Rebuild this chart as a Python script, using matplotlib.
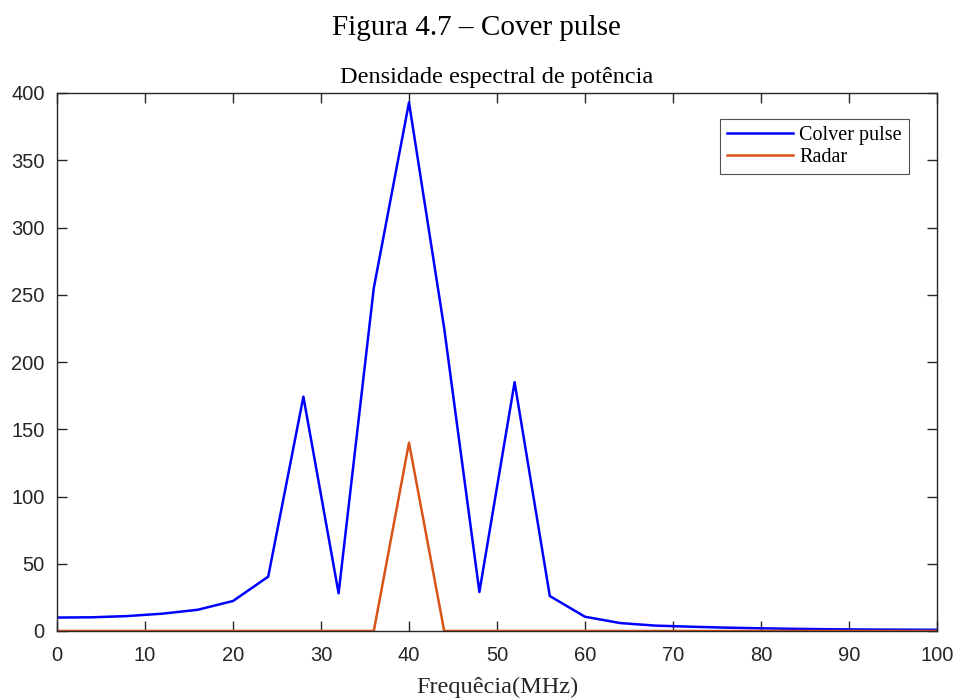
import matplotlib
matplotlib.use('Agg')
import matplotlib.pyplot as plt

# frequency axis (MHz)
freq = [0, 4, 8, 12, 16, 20, 24, 28, 32, 36, 40, 44, 48, 52, 56, 60, 64, 68,
        72, 76, 80, 84, 88, 92, 96, 100]
# power spectral density
cover_pulse = [10, 10.2, 11.1, 12.9, 15.8, 22.3, 40.4, 174.2, 28, 255, 393, 225,
               29, 185, 26, 10.6, 5.9, 4.0, 3.2, 2.5, 2.0, 1.6, 1.3, 1.1, 1.0, 0.9]
radar = [0, 0, 0, 0, 0, 0, 0, 0, 0, 0, 140, 0,
         0, 0, 0, 0, 0, 0, 0, 0, 0, 0, 0, 0, 0, 0]

serif = 'Liberation Serif'
sans = 'Liberation Sans'

fig = plt.figure(figsize=(9.55, 6.98), dpi=100)
ax = fig.add_axes([57/955, 1 - 631/698, 880/955, 538/698])

ax.plot(freq, cover_pulse, color='#0000FF', lw=1.8, label='Colver pulse')
ax.plot(freq, radar, color='#D95319', lw=1.8, label='Radar')

ax.set_xlim(0, 100)
ax.set_ylim(0, 400)
ax.set_xticks(range(0, 101, 10))
ax.set_yticks(range(0, 401, 50))
ax.tick_params(direction='in', length=7, width=1, top=True, right=True,
               labelsize=14.5, colors='#262626')
ax.tick_params(axis='x', pad=11)
ax.tick_params(axis='y', pad=9)
for lbl in ax.get_xticklabels() + ax.get_yticklabels():
    lbl.set_fontfamily(sans)
for s in ax.spines.values():
    s.set_color('#262626')
    s.set_linewidth(1.0)

ax.set_title('Densidade espectral de potência', family=serif, fontsize=17.5, pad=7)
ax.set_xlabel('Frequêcia(MHz)', family=serif, fontsize=17.5, labelpad=8, color='#262626')

leg = ax.legend(loc='upper right', bbox_to_anchor=(0.968, 0.952), borderaxespad=0,
                prop={'family': serif, 'size': 14.5}, frameon=True, fancybox=False,
                handlelength=3.3, borderpad=0.35, labelspacing=0.15, handletextpad=0.3)
leg.get_frame().set_edgecolor('#262626')
leg.get_frame().set_linewidth(0.8)

fig.text(476/955, 1 - 28/698, 'Figura 4.7 – Cover pulse', family=serif, fontsize=21,
         ha='center', va='center')

fig.savefig('out.png', dpi=100)
